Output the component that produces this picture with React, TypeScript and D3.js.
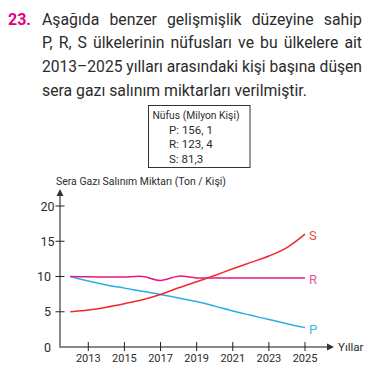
import React, { useEffect, useRef } from 'react';
import * as d3 from 'd3';

const questionNumber = '23.';
const headingLines = [
  'Aşağıda benzer gelişmişlik düzeyine sahip',
  'P, R, S ülkelerinin nüfusları ve bu ülkelere ait',
  '2013–2025 yılları arasındaki kişi başına düşen',
  'sera gazı salınım miktarları verilmiştir.',
];
const legendTitle = 'Nüfus (Milyon Kişi)';
const legendLines = ['P: 156, 1', 'R: 123, 4', 'S: 81,3'];

const years = [2012, 2013, 2014, 2015, 2016, 2017, 2018, 2019, 2020, 2021, 2022, 2023, 2024, 2025];
const pValues = [10, 9.35, 8.8, 8.35, 7.9, 7.45, 6.95, 6.45, 5.8, 5.1, 4.5, 3.9, 3.3, 2.75];
const rValues = [10, 9.96, 9.93, 9.92, 10.0, 9.45, 10.05, 9.8, 9.8, 9.8, 9.8, 9.8, 9.8, 9.8];
const sValues = [5.0, 5.25, 5.65, 6.15, 6.7, 7.45, 8.4, 9.25, 10.15, 11.1, 12.0, 12.9, 14.1, 16.0];

const xTicks = [2013, 2015, 2017, 2019, 2021, 2023, 2025];
const yTicks = [0, 5, 10, 15, 20];
const yTitle = 'Sera Gazı Salınım Miktarı (Ton / Kişi)';
const xTitle = 'Yıllar';

const series = [
  { name: 'P', values: pValues, color: '#29aee6', labelColor: '#3db8ea' },
  { name: 'R', values: rValues, color: '#e6197f', labelColor: '#e8579a' },
  { name: 'S', values: sValues, color: '#ec2a2e', labelColor: '#ee4a45' },
];

const FONT = 'Roboto, "Noto Sans", sans-serif';
const TEXT = '#2b2b2b';

const App: React.FC = () => {
  const svgRef = useRef<SVGSVGElement>(null);

  useEffect(() => {
    if (!svgRef.current) return;
    const svg = d3.select(svgRef.current);
    svg.selectAll('*').remove();

    // Heading
    svg.append('text')
      .attr('x', 8)
      .attr('y', 25)
      .attr('font-family', FONT)
      .attr('font-size', 16)
      .attr('font-weight', 700)
      .attr('fill', '#e4007f')
      .text(questionNumber);

    const lineY = [25, 47.5, 72, 96];
    const left = 42;
    const right = 362;
    headingLines.forEach((line, i) => {
      const t = svg.append('text')
        .attr('x', left)
        .attr('y', lineY[i])
        .attr('font-family', FONT)
        .attr('font-size', 15.8)
        .attr('fill', TEXT)
        .text(line);
      const len = (t.node() as SVGTextElement).getComputedTextLength();
      if (i < headingLines.length - 1) {
        // justified lines
        if (len > right - left) {
          t.attr('textLength', right - left).attr('lengthAdjust', 'spacingAndGlyphs');
        } else {
          const gaps = line.split(' ').length - 1;
          t.attr('word-spacing', (right - left - len) / gaps);
        }
      } else if (len > 265) {
        t.attr('textLength', 265).attr('lengthAdjust', 'spacingAndGlyphs');
      }
    });

    // Population box
    svg.append('rect')
      .attr('x', 148.5)
      .attr('y', 105.5)
      .attr('width', 101.5)
      .attr('height', 62)
      .attr('fill', 'white')
      .attr('stroke', '#333')
      .attr('stroke-width', 1);

    svg.append('text')
      .attr('x', 152.5)
      .attr('y', 119)
      .attr('font-family', FONT)
      .attr('font-size', 11.5)
      .attr('fill', TEXT)
      .attr('textLength', 87)
      .attr('lengthAdjust', 'spacingAndGlyphs')
      .text(legendTitle);

    legendLines.forEach((l, i) => {
      svg.append('text')
        .attr('x', 169)
        .attr('y', 133.5 + i * 14.5)
        .attr('font-family', FONT)
        .attr('font-size', 11.5)
        .attr('fill', TEXT)
        .text(l);
    });

    // Scales
    const x = d3.scaleLinear().domain([2013, 2025]).range([88.3, 305]);
    const y = d3.scaleLinear().domain([0, 20]).range([347, 206]);
    const x0 = 60;
    const y0 = y(0);

    // Y title
    svg.append('text')
      .attr('x', 56)
      .attr('y', 185)
      .attr('font-family', FONT)
      .attr('font-size', 11.5)
      .attr('fill', TEXT)
      .attr('textLength', 170)
      .attr('lengthAdjust', 'spacingAndGlyphs')
      .text(yTitle);

    const g = svg.append('g');

    // Axes lines with arrows
    g.append('line')
      .attr('x1', x0).attr('x2', x0)
      .attr('y1', y0 + 1).attr('y2', 194)
      .attr('stroke', '#8a8a8a').attr('stroke-width', 2);
    g.append('path')
      .attr('d', `M${x0 - 3.5},${196} L${x0},${189} L${x0 + 3.5},${196} Z`)
      .attr('fill', '#333');

    g.append('line')
      .attr('x1', x0 - 1).attr('x2', 329)
      .attr('y1', y0).attr('y2', y0)
      .attr('stroke', '#8a8a8a').attr('stroke-width', 2);
    g.append('path')
      .attr('d', `M${327},${y0 - 3.5} L${334},${y0} L${327},${y0 + 3.5} Z`)
      .attr('fill', '#333');

    g.append('text')
      .attr('x', 338)
      .attr('y', y0 + 4)
      .attr('font-family', FONT)
      .attr('font-size', 11.5)
      .attr('fill', TEXT)
      .text(xTitle);

    // Y ticks
    yTicks.forEach(v => {
      if (v > 0) {
        g.append('line')
          .attr('x1', x0 - 4.5).attr('x2', x0 + 4.5)
          .attr('y1', y(v)).attr('y2', y(v))
          .attr('stroke', '#222').attr('stroke-width', 1);
      }
      g.append('text')
        .attr('x', v >= 15 ? 54.5 : 51)
        .attr('y', y(v) + 4.5)
        .attr('text-anchor', 'end')
        .attr('font-family', FONT)
        .attr('font-size', 12.5)
        .attr('fill', TEXT)
        .text(v);
    });

    // X ticks
    xTicks.forEach(v => {
      g.append('line')
        .attr('x1', x(v)).attr('x2', x(v))
        .attr('y1', y0 - 5).attr('y2', y0 + 4)
        .attr('stroke', '#222').attr('stroke-width', 1);
      g.append('text')
        .attr('x', x(v))
        .attr('y', 362)
        .attr('text-anchor', 'middle')
        .attr('font-family', FONT)
        .attr('font-size', 11)
        .attr('fill', TEXT)
        .text(v);
    });

    // Lines
    const line = d3.line<number>()
      .x((_, i) => x(years[i]))
      .y(d => y(d))
      .curve(d3.curveCatmullRom.alpha(0.5));

    series.forEach(s => {
      g.append('path')
        .attr('d', line(s.values))
        .attr('fill', 'none')
        .attr('stroke', s.color)
        .attr('stroke-width', 1.5);
      const last = s.values[s.values.length - 1];
      g.append('text')
        .attr('x', x(years[years.length - 1]) + 4)
        .attr('y', y(last) + 6)
        .attr('font-family', FONT)
        .attr('font-size', 13)
        .attr('fill', s.labelColor)
        .text(s.name);
    });
  }, []);

  return (
    <svg
      ref={svgRef}
      width={376}
      height={372}
      style={{ position: 'absolute', left: 0, top: 0, background: 'white' }}
    />
  );
};

export default App;
